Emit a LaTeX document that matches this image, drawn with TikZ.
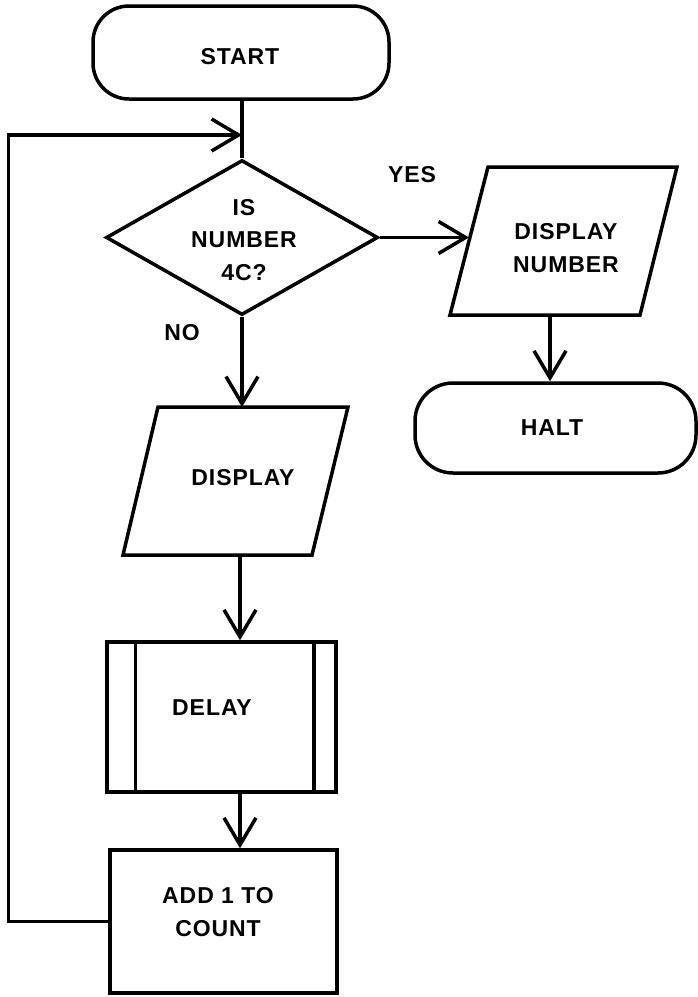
\documentclass[tikz,border=0pt]{standalone}
\usepackage{fontspec}
\setmainfont{Liberation Sans}[LetterSpace=4]
\usetikzlibrary{shapes.geometric,arrows.meta}
\begin{document}
\begin{tikzpicture}[x=1pt,y=-1pt,
  shp/.style={draw, line width=3.5pt, inner sep=0pt},
  txt/.style={font=\fontsize{23}{32.5}\selectfont\bfseries, align=center, inner sep=0pt},
  ln/.style={line width=3.5pt},
  arr/.style={line width=3.5pt, -{Straight Barb[length=27pt,width=32pt,line width=3.5pt]}}]
\useasboundingbox (0,0) rectangle (698,997);

% START
\node[shp, rounded corners=36pt, minimum width=296pt, minimum height=93pt] (start) at (241,52.5) {};
\node[txt] (startt) at (240,57) {START};

% decision
\node[shp, diamond, aspect=1.75, minimum width=272pt, minimum height=155pt] (dia) at (242,237.5) {};
\node[txt] (diat) at (244,240) {IS\\NUMBER\\4C?};
\node[txt] (yes) at (412,175) {YES};
\node[txt] (no) at (182,333) {NO};

% DISPLAY NUMBER
\coordinate (nTL) at (488,167);
\coordinate (nTR) at (677,167);
\coordinate (nBR) at (640,315);
\coordinate (nBL) at (450,315);
\draw[ln] (nTL) -- (nTR) -- (nBR) -- (nBL) -- cycle;
\node[txt] (numt) at (566,248) {DISPLAY\\NUMBER};
\coordinate (nIn) at (469,237.5);
\coordinate (nOut) at (550,315);

% HALT
\node[shp, rounded corners=38pt, minimum width=281pt, minimum height=90pt] (halt) at (555.5,428) {};
\node[txt] (haltt) at (552,428) {HALT};

% DISPLAY
\coordinate (dTL) at (158,407);
\coordinate (dTR) at (348,407);
\coordinate (dBR) at (312,555);
\coordinate (dBL) at (123,555);
\draw[ln] (dTL) -- (dTR) -- (dBR) -- (dBL) -- cycle;
\node[txt] (dispt) at (243,478) {DISPLAY};
\coordinate (dIn) at (242,407);
\coordinate (dOut) at (240,555);

% DELAY
\node[shp, minimum width=229pt, minimum height=150pt] (delay) at (221.5,717) {};
\draw[ln] ([xshift=30pt]delay.north west) -- ([xshift=30pt]delay.south west);
\draw[ln] ([xshift=-24pt]delay.north east) -- ([xshift=-24pt]delay.south east);
\node[txt] (delayt) at (212,708) {DELAY};

% ADD 1 TO COUNT
\node[shp, minimum width=227pt, minimum height=143pt] (add) at (223.5,921.5) {};
\node[txt] (addt) at (218,912) {ADD 1 TO\\COUNT};

% connectors
\coordinate (join) at (242,135);
\draw[ln] (start.south -| join) -- (dia.north);
\draw[arr] (add.west) -- ++(-100,0) |- (join);
\draw[arr] (dia.east) -- (nIn);
\draw[arr] (nOut) -- (nOut |- halt.north);
\draw[arr] (dia.south) -- (dIn);
\draw[arr] (dOut) -- (dOut |- delay.north);
\draw[arr] (delay.south -| dOut) -- (add.north -| dOut);
\end{tikzpicture}
\end{document}
